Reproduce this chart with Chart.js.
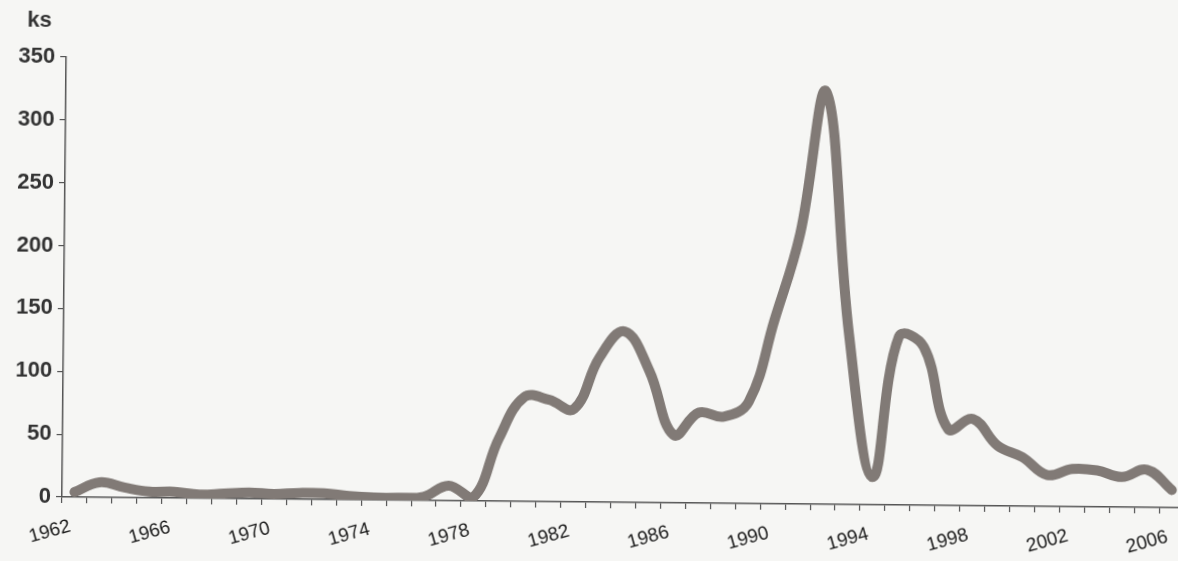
<!DOCTYPE html>
<html>
<head>
<meta charset="utf-8">
<script src="https://cdn.jsdelivr.net/npm/chart.js@4"></script>
<style>
    html, body { margin: 0; padding: 0; background: #f6f6f4; overflow: hidden; width: 1178px; height: 561px; }
    #chart { position: absolute; left: 0; top: 0; transform-origin: 62px 497px; transform: rotate(0.55deg); }
</style>
</head>
<body>
<canvas id="chart" width="1190" height="561"></canvas>
<script>
const years = ['1962', '1963', '1964', '1965', '1966', '1967', '1968', '1969', '1970', '1971',
    '1972', '1973', '1974', '1975', '1976', '1977', '1978', '1979', '1980', '1981',
    '1982', '1983', '1984', '1985', '1986', '1987', '1988', '1989', '1990', '1991',
    '1992', '1993', '1994', '1995', '1996', '1997', '1998', '1999', '2000', '2001',
    '2002', '2003', '2004', '2005', '2006'];
const counts = [4, 12, 8, 5, 5, 3, 4, 5, 4, 5,
    5, 3, 2, 2, 3, 12, 3, 50, 83, 81,
    74, 115, 136, 105, 54, 72, 69, 81, 146, 215,
    328, 135, 22, 134, 126, 61, 69, 48, 39, 25,
    30, 29, 24, 30, 14];
const shownYears = ['1962', '1966', '1970', '1974', '1978', '1982', '1986', '1990', '1994', '1998', '2002', '2006'];
const yMax = 350;
const yStep = 50;
const unitLabel = 'ks';

// draws the unit above the y axis
const unitPlugin = {
    id: 'unit',
    afterDraw(chart) {
        const ctx = chart.ctx;
        ctx.save();
        ctx.font = 'bold 22px "Liberation Sans", Arial, sans-serif';
        ctx.fillStyle = '#333';
        ctx.textAlign = 'center';
        ctx.textBaseline = 'alphabetic';
        ctx.fillText(unitLabel, 35, 27);
        ctx.restore();
    }
};

const ctx = document.getElementById('chart').getContext('2d');
new Chart(ctx, {
    type: 'line',
    data: {
        labels: years,
        datasets: [{
            data: counts,
            borderColor: '#817a76',
            borderWidth: 10,
            borderCapStyle: 'round',
            borderJoinStyle: 'round',
            tension: 0.4,
            pointRadius: 0,
            fill: false
        }]
    },
    options: {
        responsive: false,
        animation: false,
        layout: { padding: { top: 57, right: 2, bottom: 0, left: 0 } },
        plugins: {
            legend: { display: false },
            tooltip: { enabled: false }
        },
        scales: {
            x: {
                offset: true,
                grid: {
                    offset: true,
                    drawOnChartArea: false,
                    drawTicks: true,
                    tickLength: 6,
                    color: '#555',
                    lineWidth: 1.2
                },
                border: { color: '#555', width: 1.5 },
                ticks: {
                    autoSkip: false,
                    minRotation: 16,
                    maxRotation: 16,
                    padding: 12,
                    labelOffset: -4,
                    color: '#1a1a1a',
                    font: { family: '"Liberation Sans", Arial, sans-serif', size: 19 },
                    callback: function (value) {
                        const label = this.getLabelForValue(value);
                        return shownYears.includes(label) ? label : '';
                    }
                },
                afterFit: function (scale) { scale.height = 64; }
            },
            y: {
                min: 0,
                max: yMax,
                grid: {
                    drawOnChartArea: false,
                    drawTicks: true,
                    tickLength: 6,
                    color: '#555',
                    lineWidth: 1.2
                },
                border: { color: '#555', width: 1.5 },
                ticks: {
                    stepSize: yStep,
                    padding: 5,
                    color: '#333',
                    font: { family: '"Liberation Sans", Arial, sans-serif', size: 22, weight: 'bold' }
                },
                afterFit: function (scale) { scale.width = 62; }
            }
        }
    },
    plugins: [unitPlugin]
});
</script>
</body>
</html>
